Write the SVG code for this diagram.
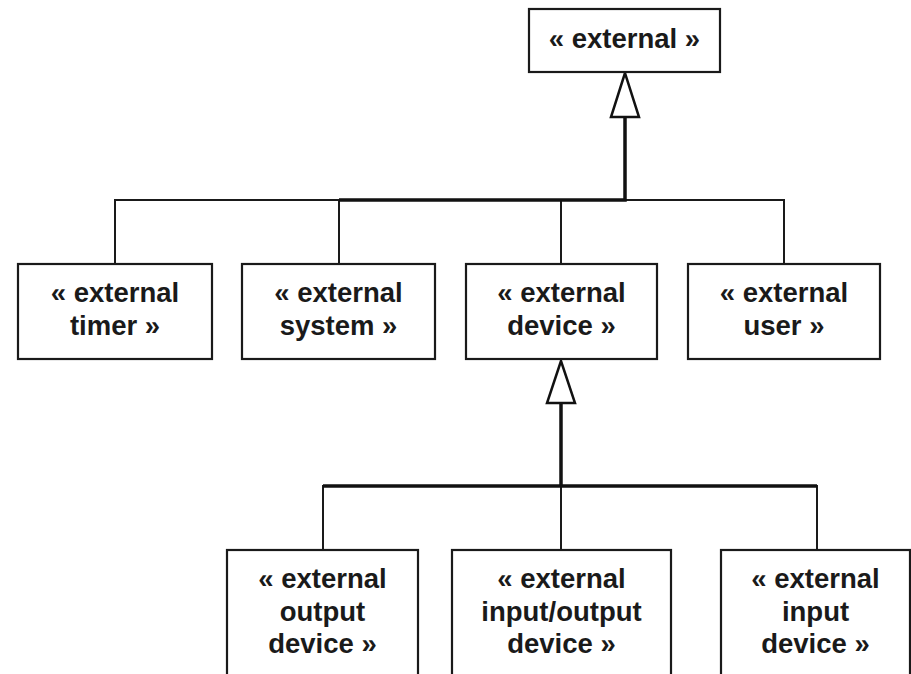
<svg xmlns="http://www.w3.org/2000/svg" width="911" height="674" viewBox="0 0 911 674">
  <style>
    .box { fill: #ffffff; stroke: #1a1a1a; stroke-width: 2.2; }
    .lbl { font-family: "Liberation Sans", Arial, sans-serif; font-weight: bold; font-size: 27.5px; fill: #1a1a1a; text-anchor: middle; }
    .wire { fill: none; stroke: #1a1a1a; stroke-width: 2; }
    .shaft { fill: none; stroke: #111111; stroke-width: 3.5; }
    .head { fill: #ffffff; stroke: #111111; stroke-width: 2.5; stroke-linejoin: miter; }
  </style>

  <rect width="911" height="674" fill="#ffffff"/>

  <!-- generalization connectors -->
  <g id="connectors">
    <!-- external: subtypes to supertype -->
    <path class="wire" d="M115,264 V200 H784 V264"/>
    <path class="wire" d="M339,264 V200"/>
    <path class="wire" d="M561,264 V200"/>
    <path class="shaft" d="M339,200 H625 V117"/>
    <polygon class="head" points="625,73 611,117 639,117"/>

    <!-- external device: subtypes to supertype -->
    <path class="wire" d="M323,550 V486 H817 V550"/>
    <path class="wire" d="M561,550 V486"/>
    <path class="shaft" d="M323,486 H817" stroke-width="2.8"/>
    <path class="shaft" d="M561,486 V403"/>
    <polygon class="head" points="561,361 547,403 575,403"/>
  </g>

  <g id="external">
    <rect class="box" x="529" y="9" width="191" height="63"/>
    <text class="lbl" x="624.5" y="48">« external »</text>
  </g>

  <g id="external-timer">
    <rect class="box" x="18" y="264" width="194" height="95"/>
    <text class="lbl" x="115" y="302">« external</text>
    <text class="lbl" x="115" y="335">timer »</text>
  </g>

  <g id="external-system">
    <rect class="box" x="242" y="264" width="193" height="95"/>
    <text class="lbl" x="338.5" y="302">« external</text>
    <text class="lbl" x="338.5" y="335">system »</text>
  </g>

  <g id="external-device">
    <rect class="box" x="466" y="264" width="191" height="95"/>
    <text class="lbl" x="561.5" y="302">« external</text>
    <text class="lbl" x="561.5" y="335">device »</text>
  </g>

  <g id="external-user">
    <rect class="box" x="688" y="264" width="192" height="95"/>
    <text class="lbl" x="784" y="302">« external</text>
    <text class="lbl" x="784" y="335">user »</text>
  </g>

  <g id="external-output-device">
    <rect class="box" x="227" y="550" width="191" height="140"/>
    <text class="lbl" x="322.5" y="588">« external</text>
    <text class="lbl" x="322.5" y="620.5">output</text>
    <text class="lbl" x="322.5" y="653">device »</text>
  </g>

  <g id="external-io-device">
    <rect class="box" x="452" y="550" width="219" height="140"/>
    <text class="lbl" x="561.5" y="588">« external</text>
    <text class="lbl" x="561.5" y="620.5">input/output</text>
    <text class="lbl" x="561.5" y="653">device »</text>
  </g>

  <g id="external-input-device">
    <rect class="box" x="721" y="550" width="189" height="140"/>
    <text class="lbl" x="815.5" y="588">« external</text>
    <text class="lbl" x="815.5" y="620.5">input</text>
    <text class="lbl" x="815.5" y="653">device »</text>
  </g>
</svg>
